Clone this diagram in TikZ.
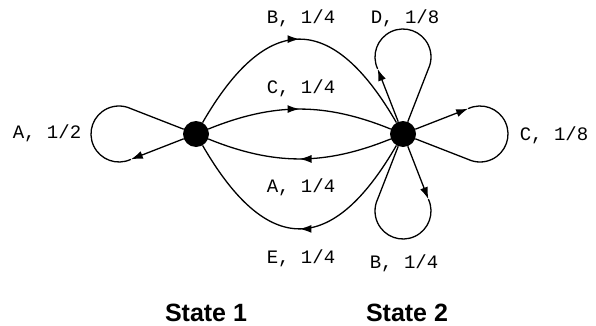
\documentclass[tikz,border=0pt]{standalone}
\usepackage{fontspec}
\setmonofont{Liberation Mono}
\setsansfont{Liberation Sans}
\usetikzlibrary{arrows.meta, calc, decorations.markings}

\begin{document}
\begin{tikzpicture}[
    x=1pt, y=1pt,
    state/.style={
        circle,
        fill=black,
        inner sep=0pt,
        minimum size=26pt
    },
    prob/.style={
        inner sep=0pt,
        font=\fontsize{19}{20}\selectfont\ttfamily
    },
    title/.style={
        inner sep=0pt,
        anchor=base,
        font=\fontsize{25}{28}\selectfont\sffamily\bfseries
    },
    edge/.style={
        line width=1.3pt,
        black
    },
    tip/.style={
        -{Latex[length=12pt, width=8pt]}
    },
    midarrow/.style={
        postaction={decorate},
        decoration={markings,
            mark=at position 0.5 with {\arrow{Latex[length=12pt, width=8pt]}}}
    }
]
\useasboundingbox (0,0) rectangle (596,325);

\node[state] (s1) at (196,191) {};
\node[state] (s2) at (403,191) {};

% loop end points
\coordinate (aout) at ($(s1)+(180:77pt)+(-65:28pt)$);
\coordinate (dout) at ($(s2)+(90:77pt)+(205:28pt)$);
\coordinate (cout) at ($(s2)+(0:77pt)+(115:28pt)$);
\coordinate (bout) at ($(s2)+(270:77pt)+(25:28pt)$);

% edges between the states
\draw[edge, midarrow] (s1) to[out=60, in=120, looseness=1.7] (s2);
\draw[edge, midarrow] (s1) to[bend left=22] (s2);
\draw[edge, midarrow] (s2) to[bend left=22] (s1);
\draw[edge, midarrow] (s2) to[out=240, in=300, looseness=1.7] (s1);

% self loops
\draw[edge, tip] (s1) -- (aout);
\draw[edge] (aout) arc[start angle=-65, delta angle=-230, radius=28pt] -- (s1);
\draw[edge, tip] (s2) -- (dout);
\draw[edge] (dout) arc[start angle=205, delta angle=-230, radius=28pt] -- (s2);
\draw[edge, tip] (s2) -- (cout);
\draw[edge] (cout) arc[start angle=115, delta angle=-230, radius=28pt] -- (s2);
\draw[edge, tip] (s2) -- (bout);
\draw[edge] (bout) arc[start angle=25, delta angle=-230, radius=28pt] -- (s2);

% labels
\node[prob] (la) at (47,192) {A, 1/2};
\node[prob] (lb) at (301,307) {B, 1/4};
\node[prob] (lc) at (301,237) {C, 1/4};
\node[prob] (lab) at (301,138) {A, 1/4};
\node[prob] (le) at (301,67) {E, 1/4};
\node[prob] (ld) at (405,307) {D, 1/8};
\node[prob] (lcc) at (554,190) {C, 1/8};
\node[prob] (lbb) at (404,62) {B, 1/4};

\node[title] (t1) at (206,4) {State 1};
\node[title] (t2) at (407,4) {State 2};

\end{tikzpicture}
\end{document}
